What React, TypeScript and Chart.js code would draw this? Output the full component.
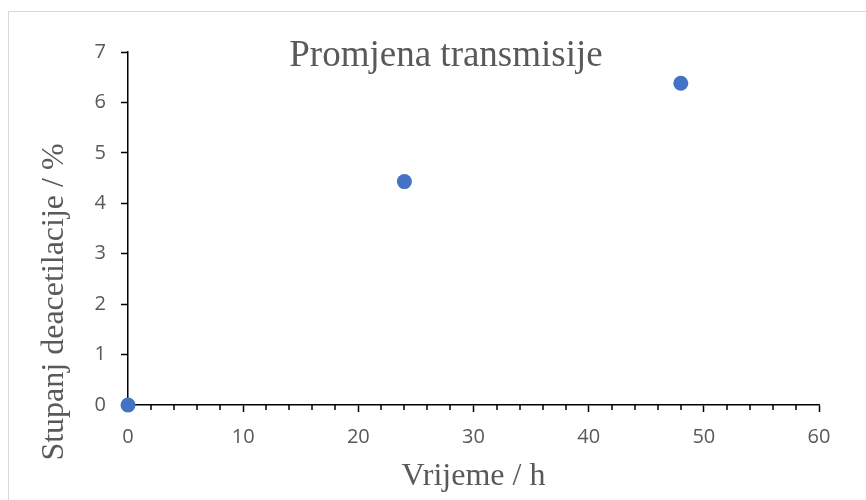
import { useEffect, useRef } from 'react';
import { Chart, registerables } from 'chart.js';

Chart.register(...registerables);

// ---- data ----
const timeHours: number[] = [0, 24, 48];
const deacetylationPercent: number[] = [0, 4.43, 6.38];
const xTickValues: number[] = [0, 10, 20, 30, 40, 50, 60];
const xMinorTickValues: number[] = [2, 4, 6, 8, 12, 14, 16, 18, 22, 24, 26, 28, 32, 34, 36, 38, 42, 44, 46, 48, 52, 54, 56, 58];
const yTickValues: number[] = [0, 1, 2, 3, 4, 5, 6, 7];
const chartTitle = 'Promjena transmisije';
const xAxisTitle = 'Vrijeme / h';
const yAxisTitle = 'Stupanj deacetilacije / %';

const TEXT_COLOR = '#595959';
const AXIS_COLOR = '#000000';
const POINT_COLOR = '#4472C4';
const SERIF = "'Liberation Serif', 'Times New Roman', serif";
const SANS = "'Open Sans', 'Liberation Sans', sans-serif";

export default function App() {
  const canvasRef = useRef<HTMLCanvasElement | null>(null);

  useEffect(() => {
    const canvas = canvasRef.current;
    if (!canvas) return;

    const decorPlugin = {
      id: 'decor',
      beforeDraw(chart: any) {
        const ctx = chart.ctx;
        ctx.save();
        ctx.strokeStyle = '#d9d9d9';
        ctx.lineWidth = 1;
        ctx.strokeRect(8.5, 11.5, 1000, 1000);
        ctx.restore();
      },
      beforeDatasetsDraw(chart: any) {
        const ctx = chart.ctx;
        const xs = chart.scales.x;
        const yBase = chart.chartArea.bottom;
        ctx.save();
        ctx.strokeStyle = AXIS_COLOR;
        ctx.lineWidth = 1.5;
        ctx.beginPath();
        xMinorTickValues.forEach((v) => {
          const px = Math.round(xs.getPixelForValue(v));
          ctx.moveTo(px, yBase);
          ctx.lineTo(px, yBase + 5);
        });
        ctx.stroke();
        ctx.restore();
      },
      afterDraw(chart: any) {
        const ctx = chart.ctx;
        const area = chart.chartArea;
        ctx.save();
        ctx.fillStyle = TEXT_COLOR;
        ctx.textAlign = 'center';
        ctx.textBaseline = 'alphabetic';
        // main title
        ctx.font = `37px ${SERIF}`;
        ctx.fillText(chartTitle, 446, 66);
        // x axis title
        ctx.font = `32px ${SERIF}`;
        ctx.fillText(xAxisTitle, (area.left + area.right) / 2, 485);
        // y axis title
        ctx.translate(63, 302);
        ctx.rotate(-Math.PI / 2);
        ctx.fillText(yAxisTitle, 0, 0);
        ctx.restore();
      },
    };

    const chart = new Chart(canvas, {
      type: 'scatter',
      data: {
        datasets: [
          {
            data: timeHours.map((t, i) => ({ x: t, y: deacetylationPercent[i] })),
            backgroundColor: POINT_COLOR,
            borderColor: POINT_COLOR,
            borderWidth: 0,
            pointRadius: 7.5,
            pointHoverRadius: 7.5,
            clip: false as any,
          },
        ],
      },
      options: {
        animation: false,
        responsive: true,
        maintainAspectRatio: false,
        layout: { padding: { left: 0, right: 47, top: 52, bottom: 0 } },
        plugins: {
          legend: { display: false },
          tooltip: { enabled: false },
          title: { display: false },
        },
        scales: {
          x: {
            type: 'linear',
            min: 0,
            max: 60,
            afterBuildTicks: (scale: any) => {
              scale.ticks = xTickValues.map((v) => ({ value: v }));
            },
            afterFit: (scale: any) => {
              scale.height = 95;
            },
            ticks: {
              color: TEXT_COLOR,
              font: { family: SANS, size: 20 },
              padding: 13,
              maxRotation: 0,
            },
            grid: {
              drawOnChartArea: false,
              drawTicks: true,
              tickLength: 7,
              tickColor: AXIS_COLOR,
              tickWidth: 1.5,
            },
            border: { display: true, color: AXIS_COLOR, width: 1.5 },
          },
          y: {
            type: 'linear',
            min: 0,
            max: 7,
            afterBuildTicks: (scale: any) => {
              scale.ticks = yTickValues.map((v) => ({ value: v }));
            },
            afterFit: (scale: any) => {
              scale.width = 128;
            },
            ticks: {
              color: TEXT_COLOR,
              font: { family: SANS, size: 20 },
              padding: 15,
            },
            grid: {
              drawOnChartArea: false,
              drawTicks: true,
              tickLength: 7,
              tickColor: AXIS_COLOR,
              tickWidth: 1.5,
            },
            border: { display: true, color: AXIS_COLOR, width: 1.5 },
          },
        },
      },
      plugins: [decorPlugin],
    });

    return () => {
      chart.destroy();
    };
  }, []);

  return (
    <div style={{ position: 'absolute', left: 0, top: 0, width: 866, height: 500, background: '#ffffff' }}>
      <canvas ref={canvasRef} />
    </div>
  );
}
